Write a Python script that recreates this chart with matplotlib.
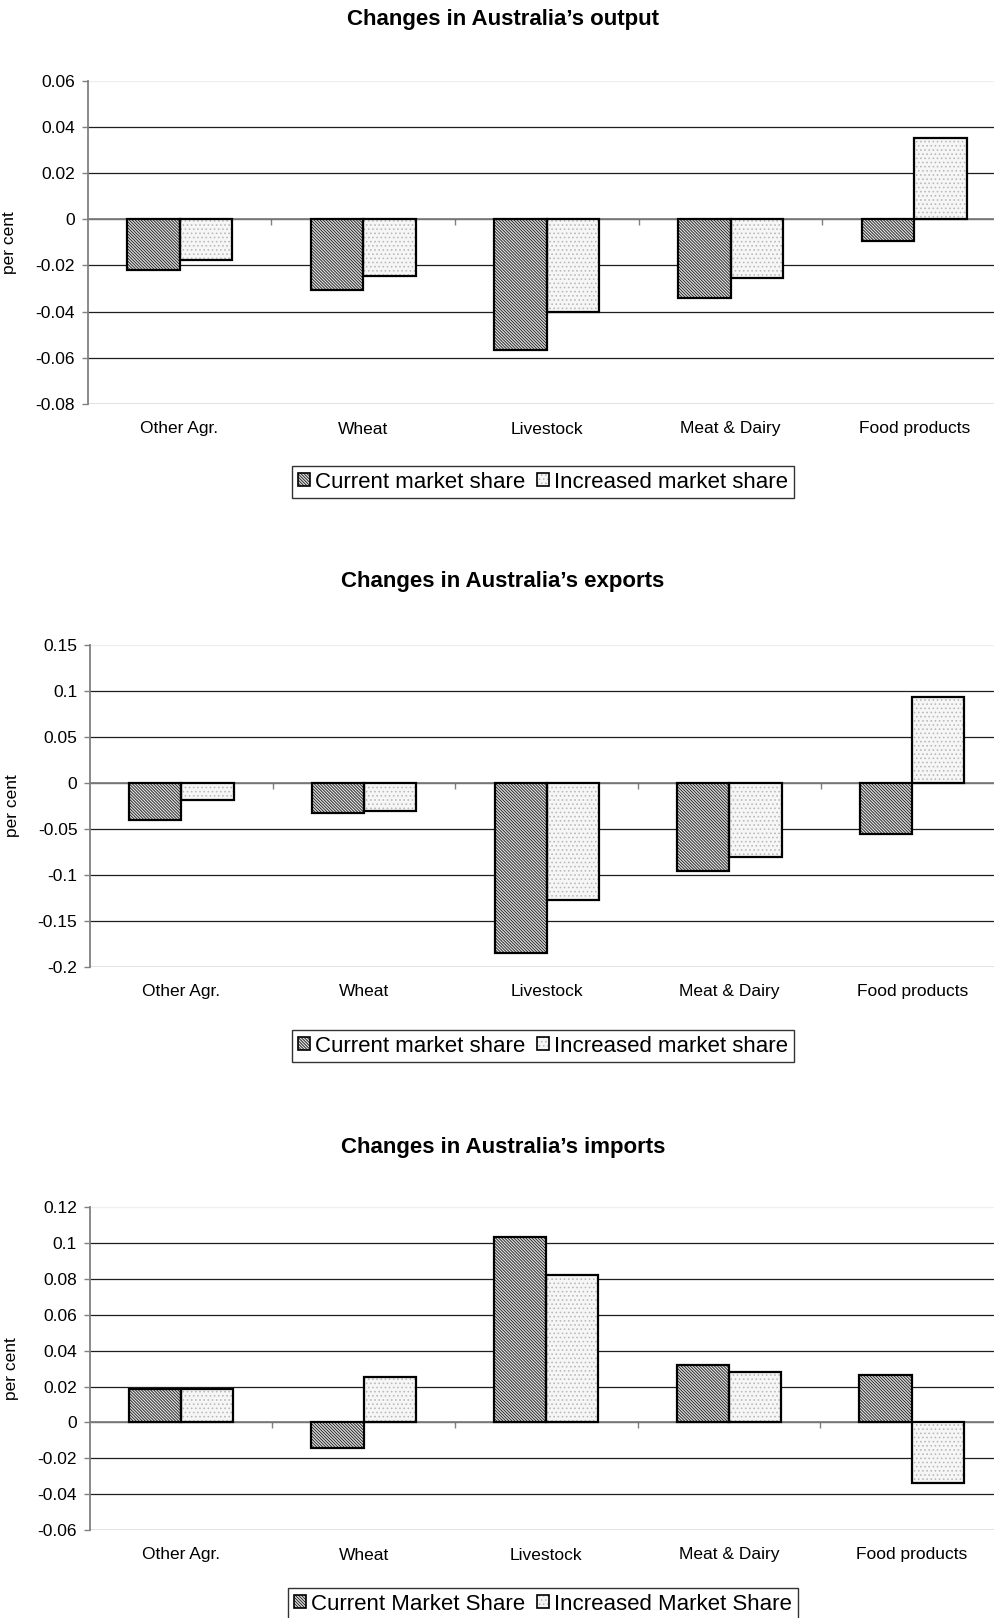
import numpy as np
import matplotlib
matplotlib.use("Agg")
import matplotlib.pyplot as plt
from matplotlib.patches import Patch
from matplotlib.legend_handler import HandlerTuple
from matplotlib.ticker import FixedLocator, FuncFormatter

plt.rcParams["font.family"] = ["Liberation Sans", "DejaVu Sans"]
plt.rcParams["hatch.linewidth"] = 0.65

# ---- data ----
categories = ["Other Agr.", "Wheat", "Livestock", "Meat & Dairy", "Food products"]

output_current = [-0.0221, -0.0307, -0.0564, -0.0343, -0.0095]
output_increased = [-0.0175, -0.0247, -0.0401, -0.0254, 0.0354]
output_ticks = [-0.08, -0.06, -0.04, -0.02, 0, 0.02, 0.04, 0.06]

exports_current = [-0.040, -0.0326, -0.1847, -0.0962, -0.0559]
exports_increased = [-0.019, -0.0309, -0.127, -0.0805, 0.0936]
exports_ticks = [-0.2, -0.15, -0.1, -0.05, 0, 0.05, 0.1, 0.15]

imports_current = [0.0188, -0.0145, 0.1034, 0.0323, 0.0264]
imports_increased = [0.0184, 0.0253, 0.0822, 0.0279, -0.0336]
imports_ticks = [-0.06, -0.04, -0.02, 0, 0.02, 0.04, 0.06, 0.08, 0.1, 0.12]

titles = ["Changes in Australia\u2019s output",
          "Changes in Australia\u2019s exports",
          "Changes in Australia\u2019s imports"]
legend_labels = [["Current market share", "Increased market share"],
                 ["Current market share", "Increased market share"],
                 ["Current Market Share", "Increased Market Share"]]

# ---- layout (pixels in a 995 x 1618 canvas) ----
W, H = 995, 1618
# left, top, right, bottom of each plot area
boxes = [(87.7, 80.7, 1006, 404), (90, 645, 1003.5, 966.7), (89.5, 1207.3, 1003, 1530)]
title_y = [19, 582, 1147]
legend_y = [482, 1046, 1604]

CUR_STYLE = dict(face="#e2e2e2", hatch="\\" * 11, hcol="#222222")
INC_STYLE = dict(face="#f6f6f6", hatch="....", hcol="#b8b8b8")


def fmt(v, pos):
    v = round(v, 6) + 0.0
    return f"{v:g}"


def draw_panel(ax, cur, inc, ticks):
    x = np.arange(len(categories))
    w = 1 / 3.5
    for vals, off, st in [(cur, -w / 2, CUR_STYLE), (inc, w / 2, INC_STYLE)]:
        ax.bar(x + off, vals, w, color=st["face"], hatch=st["hatch"],
               edgecolor=st["hcol"], linewidth=0, zorder=2)
        ax.bar(x + off, vals, w, facecolor="none", edgecolor="black",
               linewidth=1.6, zorder=3)

    ax.set_xlim(-0.5, len(categories) - 0.5)
    ax.set_ylim(ticks[0], ticks[-1])
    ax.yaxis.set_major_locator(FixedLocator(ticks))
    ax.yaxis.set_major_formatter(FuncFormatter(fmt))
    ax.grid(axis="y", color="#1e1e1e", linewidth=0.9, zorder=0)
    ax.get_ygridlines()[-1].set_color("#eeeeee")
    ax.set_axisbelow(True)

    for s in ["top", "right"]:
        ax.spines[s].set_visible(False)
    ax.spines["left"].set_color("#808080")
    ax.spines["left"].set_linewidth(1.3)
    ax.spines["bottom"].set_position(("data", 0))
    ax.spines["bottom"].set_color("#808080")
    ax.spines["bottom"].set_linewidth(1.3)
    ax.spines["bottom"].set_zorder(1)

    ax.set_xticks(x)
    ax.set_xticklabels([])
    ax.set_xticks(np.arange(len(categories) - 1) + 0.5, minor=True)
    ax.tick_params(axis="x", which="major", length=0)
    ax.tick_params(axis="x", which="minor", length=4, width=1, color="#808080",
                   direction="out")
    ax.tick_params(axis="y", length=4, width=1, color="#808080", pad=5,
                   labelsize=12.5)
    for i, c in enumerate(categories):
        ax.annotate(c, xy=(i, 0), xycoords=("data", "axes fraction"),
                    xytext=(0, -18), textcoords="offset points",
                    ha="center", va="center", fontsize=12.5)
    ax.set_ylabel("per cent", fontsize=12.5)
    ax.yaxis.set_label_coords(-0.077, 0.5)


fig = plt.figure(figsize=(W / 100, H / 100), dpi=100)

panels = [(output_current, output_increased, output_ticks),
          (exports_current, exports_increased, exports_ticks),
          (imports_current, imports_increased, imports_ticks)]

for k, (cur, inc, ticks) in enumerate(panels):
    l, t, r, b = boxes[k]
    ax = fig.add_axes([l / W, 1 - b / H, (r - l) / W, (b - t) / H])
    draw_panel(ax, cur, inc, ticks)

    fig.text(503 / W, 1 - title_y[k] / H, titles[k], ha="center", va="center",
             fontsize=16, fontweight="bold")

    handles = []
    for st in (CUR_STYLE, INC_STYLE):
        fill = Patch(facecolor=st["face"], hatch=st["hatch"], edgecolor=st["hcol"], linewidth=0)
        edge = Patch(facecolor="none", edgecolor="black", linewidth=1.2)
        handles.append((fill, edge))
    leg = fig.legend(handles, legend_labels[k], ncol=2, loc="center",
                     bbox_to_anchor=(543 / W, 1 - legend_y[k] / H),
                     fontsize=16, frameon=True, fancybox=False,
                     edgecolor="black", borderpad=0.25,
                     handlelength=0.55, handleheight=0.55, handletextpad=0.25,
                     columnspacing=0.5, borderaxespad=0,
                     handler_map={tuple: HandlerTuple(ndivide=1, pad=0)})
    leg.get_frame().set_linewidth(1.0)

fig.savefig("out.png", dpi=100)
